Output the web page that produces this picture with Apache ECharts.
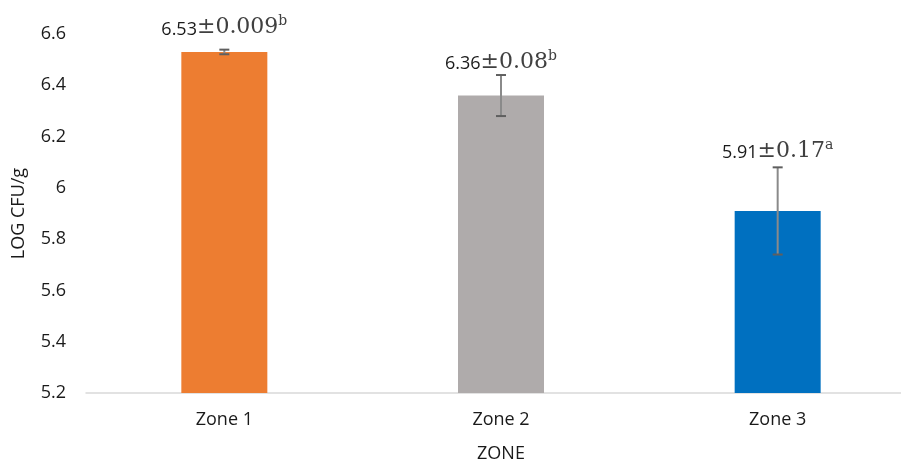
<!DOCTYPE html>
<html>
<head>
<meta charset="utf-8">
<script src="https://cdn.jsdelivr.net/npm/echarts@6/dist/echarts.min.js"></script>
<style>
html,body{margin:0;padding:0;background:#fff;}
#chart{width:901px;height:463px;}
</style>
</head>
<body>
<div id="chart"></div>
<script>
// ---- data ----
const categories = ['Zone 1', 'Zone 2', 'Zone 3'];
const means = [6.53, 6.36, 5.91];
const errors = [0.009, 0.08, 0.17];
const meanLabels = ['6.53', '6.36', '5.91'];
const errorLabels = ['0.009', '0.08', '0.17'];
const letters = ['b', 'b', 'a'];
const yTicks = [5.2, 5.4, 5.6, 5.8, 6, 6.2, 6.4, 6.6];

// ---- style ----
const barColors = ['#ED7D31', '#AFABAB', '#0070C0'];
const labelGaps = [11, 2, 5];
const SANS = '"Open Sans", "Liberation Sans", sans-serif';
const SERIF = '"DejaVu Serif", "Liberation Serif", serif';

const chart = echarts.init(document.getElementById('chart'), null, {renderer: 'canvas'});

const errData = categories.map((c, i) => [i, means[i] - errors[i], means[i] + errors[i]]);

chart.setOption({
  animation: false,
  backgroundColor: '#ffffff',
  grid: {left: 86, top: 34, width: 830, bottom: 70, containLabel: false, outerBoundsMode: 'none'},
  xAxis: {
    type: 'category',
    data: categories,
    name: 'ZONE',
    nameLocation: 'middle',
    nameGap: 52,
    nameTextStyle: {fontFamily: SANS, fontSize: 18, color: '#1a1a1a'},
    axisLine: {lineStyle: {color: '#d9d9d9', width: 1.5}},
    axisTick: {show: false},
    axisLabel: {fontFamily: SANS, fontSize: 18, color: '#1a1a1a', margin: 18}
  },
  yAxis: {
    type: 'value',
    min: 5.2,
    max: 6.6,
    interval: 0.2,
    name: 'LOG CFU/g',
    nameLocation: 'middle',
    nameGap: 58,
    nameTextStyle: {fontFamily: SANS, fontSize: 18, color: '#1a1a1a'},
    axisLine: {show: false},
    axisTick: {show: false},
    splitLine: {show: false},
    axisLabel: {
      fontFamily: SANS, fontSize: 18, color: '#1a1a1a', margin: 20,
      formatter: v => {
        const t = yTicks.find(x => Math.abs(x - v) < 1e-6);
        return t === undefined ? '' : String(t);
      }
    }
  },
  series: [
    {
      type: 'bar',
      barWidth: 86,
      data: means.map((v, i) => ({value: v, itemStyle: {color: barColors[i]}})),
      z: 2
    },
    {
      type: 'custom',
      z: 5,
      data: errData,
      renderItem: function (params, api) {
        const i = api.value(0);
        const lo = api.coord([i, api.value(1)]);
        const hi = api.coord([i, api.value(2)]);
        const x = lo[0];
        const cap = 5;
        return {
          type: 'group',
          children: [
            {type: 'line', shape: {x1: x, y1: hi[1], x2: x, y2: lo[1]}, style: {stroke: '#8a8a8a', lineWidth: 2}},
            {type: 'line', shape: {x1: x - cap, y1: hi[1], x2: x + cap, y2: hi[1]}, style: {stroke: '#5f5f5f', lineWidth: 2}},
            {type: 'line', shape: {x1: x - cap, y1: lo[1], x2: x + cap, y2: lo[1]}, style: {stroke: '#5f5f5f', lineWidth: 2}},
            {
              type: 'text',
              x: x,
              y: hi[1] - labelGaps[i],
              style: {
                text: '{m|' + meanLabels[i] + '}{e|±' + errorLabels[i] + '}{s|' + letters[i] + '}',
                align: 'center',
                verticalAlign: 'bottom',
                rich: {
                  m: {fontFamily: SANS, fontSize: 18, fill: '#1a1a1a', lineHeight: 24, verticalAlign: 'bottom'},
                  e: {fontFamily: SERIF, fontSize: 22, fill: '#404040', lineHeight: 24, verticalAlign: 'bottom'},
                  s: {fontFamily: SERIF, fontSize: 14, fill: '#404040', lineHeight: 24, verticalAlign: 'top'}
                }
              }
            }
          ]
        };
      }
    }
  ]
});
</script>
</body>
</html>
